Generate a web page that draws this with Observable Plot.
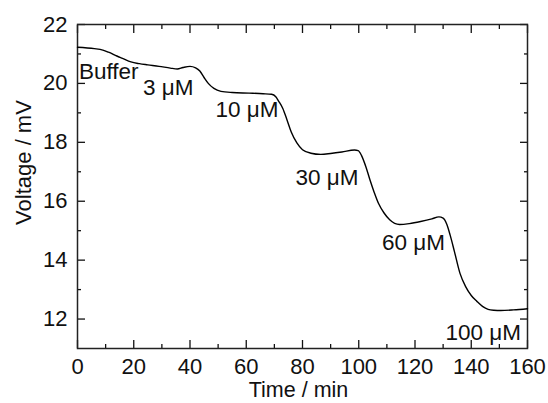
<!DOCTYPE html>
<html><head><meta charset="utf-8">
<script src="https://cdn.jsdelivr.net/npm/d3@7"></script>
<script src="https://cdn.jsdelivr.net/npm/@observablehq/plot@0.6"></script>
<style>body{margin:0;background:#fff} svg{display:block}</style>
</head><body><div id="chart"></div>
<script>
const time = [0, 6, 9, 11, 14, 16, 19, 22, 25, 29, 33, 35.5, 37.5, 40, 42, 43.5, 45, 46.5, 48.5, 51, 55, 61, 66, 69, 70.5, 71.5, 73, 74.5, 76, 78, 80, 83, 86.5, 90, 94, 98.5, 99.8, 101, 102.5, 104, 105.5, 107, 109, 111, 114.5, 118, 122, 126, 128.5, 130, 131.3, 132.5, 134, 136, 138, 140, 142, 144, 146, 148, 150.5, 155, 160];
const voltage = [21.23, 21.18, 21.13, 21.06, 20.93, 20.85, 20.73, 20.67, 20.63, 20.58, 20.52, 20.49, 20.54, 20.58, 20.53, 20.42, 20.2, 20.0, 19.83, 19.73, 19.69, 19.67, 19.65, 19.63, 19.55, 19.40, 19.15, 18.76, 18.35, 17.98, 17.75, 17.63, 17.59, 17.62, 17.67, 17.74, 17.72, 17.55, 17.18, 16.72, 16.3, 15.93, 15.6, 15.37, 15.21, 15.24, 15.31, 15.4, 15.47, 15.43, 15.22, 14.85, 14.3, 13.55, 13.1, 12.8, 12.6, 12.43, 12.33, 12.3, 12.29, 12.31, 12.35];
const labels = ["Buffer", "3 μM", "10 μM", "30 μM", "60 μM", "100 μM"];
const labelTime = [0.5, 23.3, 49.1, 77.5, 108.3, 130.8];
const labelVoltage = [20.38, 19.84, 19.11, 16.81, 14.6, 11.53];
const xMajorTicks = [0, 20, 40, 60, 80, 100, 120, 140, 160];
const xMinorTicks = [10, 30, 50, 70, 90, 110, 130, 150];
const yMajorTicks = [12, 14, 16, 18, 20, 22];
const yMinorTicks = [13, 15, 17, 19, 21];
const xTitle = "Time / min";
const yTitle = "Voltage / mV";

const series = time.map((t, i) => ({t, v: voltage[i]}));
const blank = () => "";

const plot = Plot.plot({
  width: 548, height: 403,
  marginLeft: 77, marginRight: 21, marginTop: 24, marginBottom: 55,
  style: {fontFamily: "'Liberation Sans', Arial, sans-serif", fontSize: "22px", color: "#111", background: "#fff"},
  x: {domain: [0, 160]},
  y: {domain: [11, 22]},
  marks: [
    Plot.axisX(xMajorTicks, {anchor: "bottom", tickSize: -8, tickPadding: 18, label: null, fontSize: 22, strokeWidth: 1.3}),
    Plot.axisX(xMinorTicks, {anchor: "bottom", tickSize: -4, tickFormat: blank, label: null, strokeWidth: 1.3}),
    Plot.axisX(xMajorTicks, {anchor: "top", tickSize: -8, tickFormat: blank, label: null, strokeWidth: 1.3}),
    Plot.axisX(xMinorTicks, {anchor: "top", tickSize: -4, tickFormat: blank, label: null, strokeWidth: 1.3}),
    Plot.axisY(yMajorTicks, {anchor: "left", tickSize: -8, tickPadding: 18, label: null, fontSize: 22, strokeWidth: 1.3}),
    Plot.axisY(yMinorTicks, {anchor: "left", tickSize: -4, tickFormat: blank, label: null, strokeWidth: 1.3}),
    Plot.axisY(yMajorTicks, {anchor: "right", tickSize: -8, tickFormat: blank, label: null, strokeWidth: 1.3}),
    Plot.axisY(yMinorTicks, {anchor: "right", tickSize: -4, tickFormat: blank, label: null, strokeWidth: 1.3}),
    Plot.frame({stroke: "#222", strokeWidth: 1.5}),
    Plot.line(series, {x: "t", y: "v", stroke: "#000", strokeWidth: 1.4, curve: "monotone-x"}),
    Plot.text(labels, {x: (d, i) => labelTime[i], y: (d, i) => labelVoltage[i], textAnchor: "start", lineAnchor: "middle", fontSize: 22.5, fill: "#111"}),
    Plot.text([xTitle], {frameAnchor: "bottom", textAnchor: "middle", lineAnchor: "middle", dx: -4, dy: 42, fontSize: 21.5, fill: "#111"}),
    Plot.text([yTitle], {frameAnchor: "left", textAnchor: "middle", lineAnchor: "middle", dx: -54, dy: -24, rotate: -90, fontSize: 22, fill: "#111"})
  ]
});
document.getElementById("chart").appendChild(plot);
</script>
</body></html>
